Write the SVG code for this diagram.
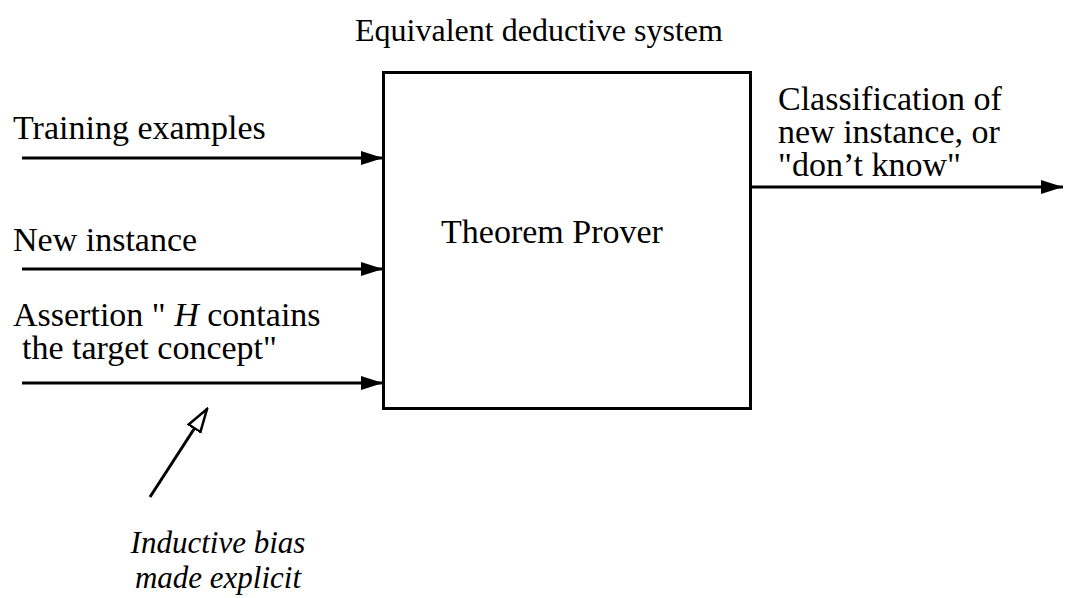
<svg xmlns="http://www.w3.org/2000/svg" width="1065" height="598" viewBox="0 0 1065 598">
<style>
.ln{stroke:#000;stroke-width:3;fill:none}
</style>
<defs>
<marker id="ah" markerUnits="userSpaceOnUse" markerWidth="24" markerHeight="14" refX="22" refY="7" orient="auto"><path d="M0,0 L22,7 L0,14 Z" fill="#000"/></marker>
<marker id="oh" markerUnits="userSpaceOnUse" markerWidth="26" markerHeight="18" refX="24" refY="9" orient="auto"><path d="M1,2 L24,9 L1,16 Z" fill="#fff" stroke="#000" stroke-width="2.5"/></marker>
</defs>
<rect width="1065" height="598" fill="#fff"/>
<text x="539" y="41" text-anchor="middle" font-family="Liberation Serif" font-size="32">Equivalent deductive system</text>
<g id="prover">
<rect x="383.5" y="72.5" width="367" height="336" class="ln"/>
<text x="552" y="243" text-anchor="middle" font-family="Liberation Serif" font-size="34">Theorem Prover</text>
</g>
<g id="training"><text x="13" y="139" font-family="Liberation Serif" font-size="34">Training examples</text></g>
<g id="newinst"><text x="13" y="251" font-family="Liberation Serif" font-size="34">New instance</text></g>
<g id="assertion"><text x="13" y="326" font-family="Liberation Serif" font-size="34">Assertion " <tspan font-style="italic">H</tspan> contains</text><text x="22" y="359" font-family="Liberation Serif" font-size="34">the target concept"</text></g>
<g id="output"><text x="778" y="110" font-family="Liberation Serif" font-size="34">Classification of</text><text x="778" y="143" font-family="Liberation Serif" font-size="34">new instance, or</text><text x="778" y="176" font-family="Liberation Serif" font-size="34">"don’t know"</text></g>
<g id="bias"><text x="218" y="553" text-anchor="middle" font-family="Liberation Serif" font-size="31" font-style="italic">Inductive bias</text><text x="218" y="588" text-anchor="middle" font-family="Liberation Serif" font-size="31" font-style="italic">made explicit</text></g>
<g id="connectors">
<line x1="22" y1="158" x2="383" y2="158" class="ln" marker-end="url(#ah)"/>
<line x1="22" y1="269" x2="383" y2="269" class="ln" marker-end="url(#ah)"/>
<line x1="22" y1="383" x2="383" y2="383" class="ln" marker-end="url(#ah)"/>
<line x1="751" y1="187" x2="1063" y2="187" class="ln" marker-end="url(#ah)"/>
<line x1="150" y1="497" x2="207" y2="409" class="ln" marker-end="url(#oh)"/>
</g>
</svg>
